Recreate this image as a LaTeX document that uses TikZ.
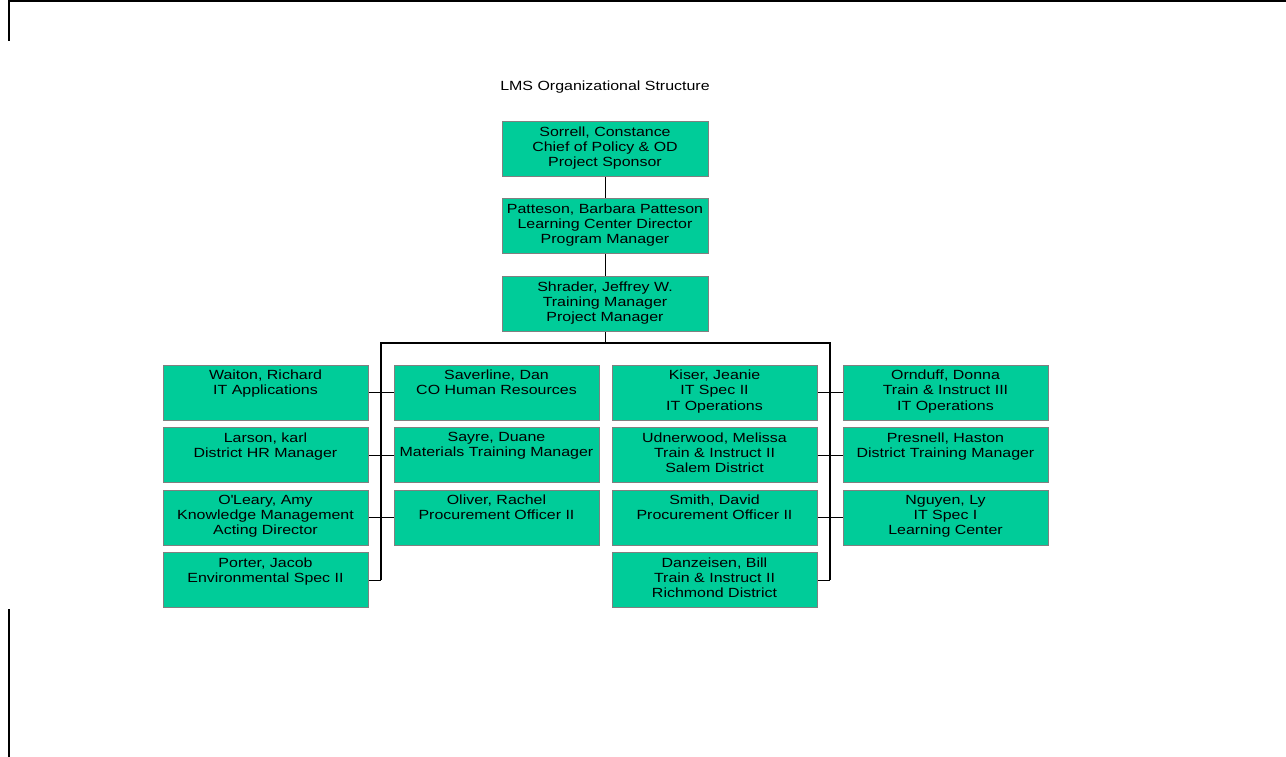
\documentclass[tikz,border=0pt]{standalone}
\usepackage{fontspec}
\setmainfont{Liberation Sans}[FakeStretch=1.2]
\definecolor{boxgreen}{RGB}{0,204,153}
\definecolor{boxedge}{RGB}{128,128,128}
\tikzset{
  staff/.style={draw=boxedge, fill=boxgreen, line width=1pt,
    minimum width=205pt, minimum height=55pt, inner sep=0pt},
  stafftext/.style={anchor=north, align=center, inner sep=0pt, yshift=-5.2pt,
    font=\fontsize{13.3}{15.3}\selectfont},
  link/.style={line width=1pt},
  bus/.style={line width=1.6pt},
}
\begin{document}
\begin{tikzpicture}[x=1pt,y=-1pt]
                    \useasboundingbox (0,0) rectangle (1286,757);
                    % page edges
                    \draw[line width=2pt] (9,41) -- (9,1) -- (1286,1);
                    \draw[line width=2pt] (9,609) -- (9,757);
                    \node[anchor=base, inner sep=0pt, font=\fontsize{13.3}{15.3}\selectfont] (title) at (605,90.7) {LMS Organizational Structure};
                    % top of the chart
                    \node[staff, minimum width=206pt] (sorrell)  at (605,149) {};
                    \node[stafftext] at (sorrell.north) {Sorrell, Constance\\Chief of Policy \& OD\\Project Sponsor};
                    \node[staff, minimum width=206pt] (patteson) at (605,226) {};
                    \node[stafftext] at (patteson.north) {Patteson, Barbara Patteson\\Learning Center Director\\Program Manager};
                    \node[staff, minimum width=206pt] (shrader)  at (605,304) {};
                    \node[stafftext] at (shrader.north) {Shrader, Jeffrey W.\\Training Manager\\Project Manager};
                    % left group
                    \node[staff] (waiton) at (265.5,392.5) {};
                    \node[stafftext] at (waiton.north) {Waiton, Richard\\IT Applications};
                    \node[staff] (larson) at (265.5,455) {};
                    \node[stafftext] at (larson.north) {Larson, karl\\District HR Manager};
                    \node[staff] (oleary) at (265.5,517.5) {};
                    \node[stafftext] at (oleary.north) {O\textquotesingle Leary, Amy\\Knowledge Management\\Acting Director};
                    \node[staff] (porter) at (265.5,580) {};
                    \node[stafftext] at (porter.north) {Porter, Jacob\\Environmental Spec II};
                    \node[staff] (saverline) at (496.5,392.5) {};
                    \node[stafftext] at (saverline.north) {Saverline, Dan\\CO Human Resources};
                    \node[staff] (sayre) at (496.5,455) {};
                    \node[stafftext] at (sayre.north) {Sayre, Duane\\Materials Training Manager};
                    \node[staff] (oliver) at (496.5,517.5) {};
                    \node[stafftext] at (oliver.north) {Oliver, Rachel\\Procurement Officer II};
                    % right group
                    \node[staff] (kiser) at (714.5,392.5) {};
                    \node[stafftext] at (kiser.north) {Kiser, Jeanie\\IT Spec II\\IT Operations};
                    \node[staff] (udnerwood) at (714.5,455) {};
                    \node[stafftext] at (udnerwood.north) {Udnerwood, Melissa\\Train \& Instruct II\\Salem District};
                    \node[staff] (smith) at (714.5,517.5) {};
                    \node[stafftext] at (smith.north) {Smith, David\\Procurement Officer II};
                    \node[staff] (danzeisen) at (714.5,580) {};
                    \node[stafftext] at (danzeisen.north) {Danzeisen, Bill\\Train \& Instruct II\\Richmond District};
                    \node[staff] (ornduff) at (945.5,392.5) {};
                    \node[stafftext] at (ornduff.north) {Ornduff, Donna\\Train \& Instruct III\\IT Operations};
                    \node[staff] (presnell) at (945.5,455) {};
                    \node[stafftext] at (presnell.north) {Presnell, Haston\\District Training Manager};
                    \node[staff] (nguyen) at (945.5,517.5) {};
                    \node[stafftext] at (nguyen.north) {Nguyen, Ly\\IT Spec I\\Learning Center};
                    % lines
                    \coordinate (hub) at (605,343);
                    \coordinate (leftend) at (381,580);
                    \coordinate (rightend) at (830,580);
                    \coordinate (rightbus) at (830,343);
                    \draw[link] (sorrell) -- (patteson);
                    \draw[link] (patteson) -- (shrader);
                    \draw[link] (shrader) -- (hub);
                    \draw[bus] (leftend) |- (rightbus) -- (rightend);
                    \foreach \a/\b in {waiton/saverline, larson/sayre, oleary/oliver, kiser/ornduff, udnerwood/presnell, smith/nguyen}
                      \draw[link] (\a) -- (\b);
                    \draw[link] (porter) -- (leftend);
                    \draw[link] (danzeisen) -- (rightend);
                \end{tikzpicture}
\end{document}
